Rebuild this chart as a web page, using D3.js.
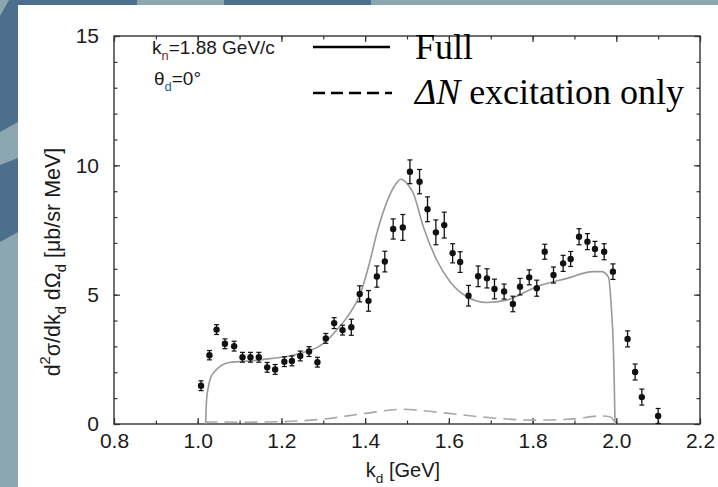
<!DOCTYPE html>
<html>
<head>
<meta charset="utf-8">
<script src="https://cdn.jsdelivr.net/npm/d3@7/dist/d3.min.js"></script>
<style>
  html, body { margin: 0; padding: 0; background: #fff; }
  svg { display: block; }
</style>
</head>
<body>
<div id="chart"></div>
<script>
// measured points: k_d [GeV], d2sigma [ub/sr MeV], error
const kd = [1.008, 1.028, 1.045, 1.065, 1.087, 1.107, 1.126, 1.146, 1.166, 1.185,
  1.207, 1.225, 1.245, 1.266, 1.286, 1.306, 1.326, 1.346, 1.367, 1.387,
  1.408, 1.428, 1.447, 1.467, 1.490, 1.507, 1.530, 1.549, 1.569, 1.589,
  1.609, 1.627, 1.647, 1.670, 1.691, 1.709, 1.732, 1.753, 1.770, 1.792,
  1.810, 1.829, 1.850, 1.873, 1.891, 1.911, 1.931, 1.949, 1.971, 1.992,
  2.027, 2.045, 2.061, 2.100];
const sigma = [1.48, 2.66, 3.65, 3.10, 3.01, 2.58, 2.58, 2.58, 2.19, 2.11,
  2.41, 2.44, 2.63, 2.80, 2.39, 3.31, 3.90, 3.63, 3.74, 5.03,
  4.76, 5.70, 6.28, 7.54, 7.60, 9.75, 9.37, 8.30, 7.41, 7.69,
  6.60, 6.26, 4.96, 5.71, 5.63, 5.22, 5.12, 4.64, 5.31, 5.67,
  5.25, 6.66, 5.76, 6.21, 6.38, 7.24, 7.05, 6.77, 6.66, 5.89,
  3.29, 2.01, 1.04, 0.31];
const sigmaErr = [0.19, 0.18, 0.19, 0.19, 0.19, 0.19, 0.19, 0.19, 0.19, 0.19,
  0.19, 0.19, 0.19, 0.19, 0.19, 0.19, 0.21, 0.19, 0.31, 0.31,
  0.40, 0.41, 0.40, 0.39, 0.50, 0.46, 0.47, 0.48, 0.48, 0.50,
  0.37, 0.40, 0.40, 0.40, 0.37, 0.38, 0.29, 0.30, 0.32, 0.29,
  0.31, 0.29, 0.31, 0.31, 0.29, 0.31, 0.31, 0.29, 0.31, 0.30,
  0.31, 0.31, 0.31, 0.29];

// full calculation
const fullK = [1.019, 1.021, 1.025, 1.030, 1.040, 1.055, 1.075, 1.100, 1.140, 1.180,
  1.220, 1.260, 1.290, 1.310, 1.330, 1.360, 1.390, 1.410, 1.430, 1.450,
  1.470, 1.485, 1.500, 1.515, 1.539, 1.571, 1.603, 1.643, 1.690, 1.738,
  1.810, 1.882, 1.945, 1.965, 1.981, 1.989, 1.993, 1.995, 1.997];
const fullVal = [0, 0.9, 1.4, 1.75, 2.02, 2.25, 2.38, 2.41, 2.46, 2.54,
  2.63, 2.80, 3.00, 3.25, 3.60, 4.20, 5.10, 6.20, 7.50, 8.50,
  9.20, 9.46, 9.30, 8.92, 7.63, 6.34, 5.50, 4.92, 4.70, 4.79,
  5.31, 5.63, 5.89, 5.89, 5.69, 4.30, 3.00, 1.70, 0];

// Delta N excitation only
const deltaK = [1.019, 1.022, 1.100, 1.200, 1.300, 1.400, 1.490, 1.540, 1.600, 1.700,
  1.800, 1.900, 1.960, 1.985, 1.998];
const deltaVal = [0, 0.08, 0.07, 0.09, 0.19, 0.41, 0.57, 0.51, 0.41, 0.24,
  0.15, 0.20, 0.31, 0.28, 0];

const xTicks = [0.8, 1.0, 1.2, 1.4, 1.6, 1.8, 2.0, 2.2];
const yTicks = [0, 5, 10, 15];
const xMinor = d3.range(8, 23).map(d => d / 10);
const yMinor = d3.range(0, 16);
const legendLabels = ["Full", "excitation only"];

const W = 718, H = 487;
const sans = "'Liberation Sans', Arial, sans-serif";
const serif = "'Liberation Serif', 'Times New Roman', serif";

const svg = d3.select("#chart").append("svg")
  .attr("width", W)
  .attr("height", H);

// slide background behind the figure
const bg = svg.append("g");
const light = "#8ca6af", dark = "#4c6f8e";
bg.append("rect").attr("width", W).attr("height", H).attr("fill", light);
bg.append("polygon").attr("points", "0,0 137,0 137,6 18,6 18,122 0,132").attr("fill", dark);
bg.append("polygon").attr("points", "224,0 371,0 371,6 224,6").attr("fill", dark);
bg.append("polygon").attr("points", "0,165 18,158 18,232 0,242").attr("fill", dark);
bg.append("polygon").attr("points", "0,0 9,0 0,16").attr("fill", light);
bg.append("rect").attr("x", 18).attr("y", 5).attr("width", W - 18).attr("height", H - 5).attr("fill", "#fff");

const x = d3.scaleLinear().domain([0.8, 2.2]).range([114, 700]);
const y = d3.scaleLinear().domain([0, 15]).range([424, 36]);

function styleAxis(g) {
  g.select(".domain").remove();
  g.selectAll(".tick line").attr("stroke", "#333").attr("stroke-width", 1.2);
  g.selectAll(".tick text")
    .attr("fill", "#1a1a1a")
    .attr("font-family", sans)
    .attr("font-size", 21);
}

// minor ticks, all four sides
svg.append("g").attr("transform", `translate(0,${y(0)})`)
  .call(d3.axisBottom(x).tickValues(xMinor).tickSize(-3.5).tickFormat("")).call(styleAxis);
svg.append("g").attr("transform", `translate(0,${y(15)})`)
  .call(d3.axisTop(x).tickValues(xMinor).tickSize(-3.5).tickFormat("")).call(styleAxis);
svg.append("g").attr("transform", `translate(${x(0.8)},0)`)
  .call(d3.axisLeft(y).tickValues(yMinor).tickSize(-3.5).tickFormat("")).call(styleAxis);
svg.append("g").attr("transform", `translate(${x(2.2)},0)`)
  .call(d3.axisRight(y).tickValues(yMinor).tickSize(-3.5).tickFormat("")).call(styleAxis);

// major ticks + labels
svg.append("g").attr("transform", `translate(0,${y(0)})`)
  .call(d3.axisBottom(x).tickValues(xTicks).tickSize(-6).tickPadding(9).tickFormat(d3.format(".1f")))
  .call(styleAxis);
svg.append("g").attr("transform", `translate(0,${y(15)})`)
  .call(d3.axisTop(x).tickValues(xTicks).tickSize(-6).tickFormat("")).call(styleAxis);
svg.append("g").attr("transform", `translate(${x(0.8)},0)`)
  .call(d3.axisLeft(y).tickValues(yTicks).tickSize(-6).tickPadding(15))
  .call(styleAxis);
svg.append("g").attr("transform", `translate(${x(2.2)},0)`)
  .call(d3.axisRight(y).tickValues(yTicks).tickSize(-6).tickFormat("")).call(styleAxis);

// frame
svg.append("rect")
  .attr("x", x(0.8)).attr("y", y(15))
  .attr("width", x(2.2) - x(0.8)).attr("height", y(0) - y(15))
  .attr("fill", "none").attr("stroke", "#333").attr("stroke-width", 1.4);

// text with sub/superscripts
function rich(sel, parts, size) {
  let cur = 0;
  parts.forEach(([t, pos, fill]) => {
    const target = pos === "sup" ? -0.45 * size : pos === "sub" ? 0.3 * size : 0;
    const sp = sel.append("tspan").text(t).attr("dy", target - cur);
    if (pos) sp.attr("font-size", size * 0.68);
    if (fill) sp.attr("fill", fill);
    cur = target;
  });
}

const line = d3.line().x(d => x(d[0])).y(d => y(d[1])).curve(d3.curveMonotoneX);

svg.append("path")
  .datum(deltaK.map((k, i) => [k, deltaVal[i]]))
  .attr("d", line)
  .attr("fill", "none")
  .attr("stroke", "#a9a9a9")
  .attr("stroke-width", 1.6)
  .attr("stroke-dasharray", "13,7");

svg.append("path")
  .datum(fullK.map((k, i) => [k, fullVal[i]]))
  .attr("d", line)
  .attr("fill", "none")
  .attr("stroke", "#999")
  .attr("stroke-width", 1.6);

// data points with error bars
const pts = kd.map((k, i) => ({ k, v: sigma[i], e: sigmaErr[i] }));
const pg = svg.append("g").selectAll("g").data(pts).join("g");
pg.append("line")
  .attr("x1", d => x(d.k)).attr("x2", d => x(d.k))
  .attr("y1", d => y(d.v - d.e)).attr("y2", d => y(d.v + d.e))
  .attr("stroke", "#111").attr("stroke-width", 1.3);
pg.append("line")
  .attr("x1", d => x(d.k) - 2.5).attr("x2", d => x(d.k) + 2.5)
  .attr("y1", d => y(d.v + d.e)).attr("y2", d => y(d.v + d.e))
  .attr("stroke", "#111").attr("stroke-width", 1.2);
pg.append("line")
  .attr("x1", d => x(d.k) - 2.5).attr("x2", d => x(d.k) + 2.5)
  .attr("y1", d => y(d.v - d.e)).attr("y2", d => y(d.v - d.e))
  .attr("stroke", "#111").attr("stroke-width", 1.2);
pg.append("circle")
  .attr("cx", d => x(d.k)).attr("cy", d => y(d.v))
  .attr("r", 3.2).attr("fill", "#111");

// axis titles
const xt = svg.append("text")
  .attr("x", 403).attr("y", 477)
  .attr("text-anchor", "middle")
  .attr("font-family", sans).attr("font-size", 20).attr("fill", "#1a1a1a");
rich(xt, [["k"], ["d", "sub"], [" [GeV]"]], 20);

const yt = svg.append("text")
  .attr("transform", "translate(60,262) rotate(-90)")
  .attr("text-anchor", "middle")
  .attr("font-family", sans).attr("font-size", 21.5).attr("fill", "#1a1a1a");
rich(yt, [["d"], ["2", "sup"], ["σ/dk"], ["d", "sub"], [" dΩ"], ["d", "sub"], [" [μb/sr MeV]"]], 21.5);

// kinematics annotation
const a1 = svg.append("text").attr("x", 152).attr("y", 54)
  .attr("font-family", sans).attr("font-size", 19).attr("fill", "#1a1a1a");
rich(a1, [["k"], ["n", "sub", "#8b1c1c"], ["=1.88 GeV/c"]], 19);
const a2 = svg.append("text").attr("x", 154).attr("y", 85)
  .attr("font-family", sans).attr("font-size", 19).attr("fill", "#1a1a1a");
rich(a2, [["θ"], ["d", "sub", "#1f5fa0"], ["=0°"]], 19);

// legend
const lg = svg.append("g");
lg.append("line").attr("x1", 313).attr("x2", 390).attr("y1", 47).attr("y2", 47)
  .attr("stroke", "#000").attr("stroke-width", 2.4);
lg.append("line").attr("x1", 313).attr("x2", 392).attr("y1", 93).attr("y2", 93)
  .attr("stroke", "#000").attr("stroke-width", 2.4).attr("stroke-dasharray", "12,6");
lg.append("text").attr("x", 415).attr("y", 59)
  .attr("font-family", serif).attr("font-size", 36).attr("fill", "#000")
  .text(legendLabels[0]);
const l2 = lg.append("text").attr("x", 415).attr("y", 104)
  .attr("font-family", serif).attr("font-size", 36).attr("fill", "#000");
l2.append("tspan").attr("font-style", "italic").text("ΔN");
l2.append("tspan").text(" " + legendLabels[1]);
</script>
</body>
</html>
